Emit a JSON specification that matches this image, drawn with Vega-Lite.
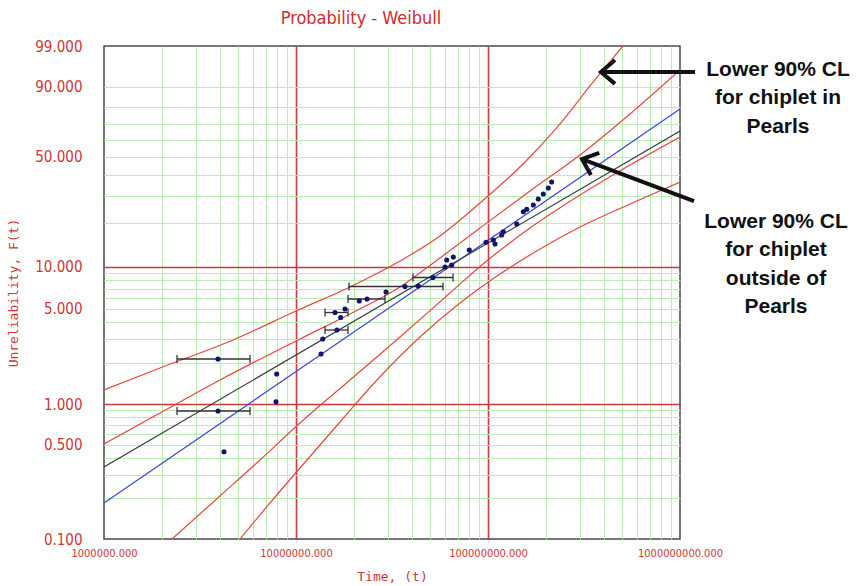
{
  "$schema": "https://vega.github.io/schema/vega-lite/v6.json",
  "width": 576,
  "height": 493,
  "autosize": {"type": "none"},
  "padding": {"left": 104, "top": 46, "right": 176, "bottom": 47},
  "background": "white",
  "title": {
    "text": "Probability - Weibull",
    "color": "#d42a2a",
    "font": "'Liberation Sans Narrow', 'DejaVu Sans Condensed', 'Liberation Sans', sans-serif",
    "fontSize": 18,
    "fontWeight": "normal",
    "anchor": "middle",
    "frame": "group",
    "dx": -31,
    "offset": 11
  },
  "config": {"view": {"stroke": "#4a4a4a", "strokeWidth": 1.5}},
  "resolve": {"axis": {"x": "independent", "y": "independent"}},
  "datasets": {
    "fits": [
      {"fit": "chiplet outside of Pearls", "t": 1e6, "F": 0.1854},
      {"fit": "chiplet outside of Pearls", "t": 1e9, "F": 79.1},
      {"fit": "chiplet in Pearls", "t": 1e6, "F": 0.3423},
      {"fit": "chiplet in Pearls", "t": 1e9, "F": 65.9}
    ],
    "bounds": [
      {"bound": "in Pearls, lower CL", "t": 1e6, "F": 1.272},
      {"bound": "in Pearls, lower CL", "t": 1.957e6, "F": 1.848},
      {"bound": "in Pearls, lower CL", "t": 4.697e6, "F": 2.967},
      {"bound": "in Pearls, lower CL", "t": 1e7, "F": 4.825},
      {"bound": "in Pearls, lower CL", "t": 1.911e7, "F": 7.186},
      {"bound": "in Pearls, lower CL", "t": 3.481e7, "F": 10.98},
      {"bound": "in Pearls, lower CL", "t": 5.623e7, "F": 16.34},
      {"bound": "in Pearls, lower CL", "t": 9.085e7, "F": 26.94},
      {"bound": "in Pearls, lower CL", "t": 1.597e8, "F": 48.07},
      {"bound": "in Pearls, lower CL", "t": 2.371e8, "F": 70.27},
      {"bound": "in Pearls, lower CL", "t": 3.398e8, "F": 90.21},
      {"bound": "in Pearls, lower CL", "t": 5.048e8, "F": 99.0},
      {"bound": "outside of Pearls, lower CL", "t": 1e6, "F": 0.507},
      {"bound": "outside of Pearls, lower CL", "t": 1.957e6, "F": 0.86},
      {"bound": "outside of Pearls, lower CL", "t": 4.019e6, "F": 1.508},
      {"bound": "outside of Pearls, lower CL", "t": 1.0243e7, "F": 2.967},
      {"bound": "outside of Pearls, lower CL", "t": 1.911e7, "F": 4.59},
      {"bound": "outside of Pearls, lower CL", "t": 3.481e7, "F": 7.186},
      {"bound": "outside of Pearls, lower CL", "t": 5.623e7, "F": 11.53},
      {"bound": "outside of Pearls, lower CL", "t": 9.085e7, "F": 18.5},
      {"bound": "outside of Pearls, lower CL", "t": 1.655e8, "F": 31.99},
      {"bound": "outside of Pearls, lower CL", "t": 3.014e8, "F": 51.0},
      {"bound": "outside of Pearls, lower CL", "t": 5.491e8, "F": 76.28},
      {"bound": "outside of Pearls, lower CL", "t": 1e9, "F": 95.29},
      {"bound": "outside of Pearls, upper CL", "t": 2.261e6, "F": 0.1},
      {"bound": "outside of Pearls, upper CL", "t": 4.019e6, "F": 0.2086},
      {"bound": "outside of Pearls, upper CL", "t": 6.494e6, "F": 0.3858},
      {"bound": "outside of Pearls, upper CL", "t": 1.0491e7, "F": 0.7253},
      {"bound": "outside of Pearls, upper CL", "t": 1.911e7, "F": 1.508},
      {"bound": "outside of Pearls, upper CL", "t": 3.481e7, "F": 3.12},
      {"bound": "outside of Pearls, upper CL", "t": 6.34e7, "F": 6.508},
      {"bound": "outside of Pearls, upper CL", "t": 9.418e7, "F": 10.46},
      {"bound": "outside of Pearls, upper CL", "t": 1.655e8, "F": 18.5},
      {"bound": "outside of Pearls, upper CL", "t": 3.014e8, "F": 30.22},
      {"bound": "outside of Pearls, upper CL", "t": 5.491e8, "F": 45.19},
      {"bound": "outside of Pearls, upper CL", "t": 1e9, "F": 62.13},
      {"bound": "in Pearls, upper CL", "t": 5.109e6, "F": 0.1},
      {"bound": "in Pearls, upper CL", "t": 7.32e6, "F": 0.1852},
      {"bound": "in Pearls, upper CL", "t": 1.0491e7, "F": 0.3365},
      {"bound": "in Pearls, upper CL", "t": 1.695e7, "F": 0.7378},
      {"bound": "in Pearls, upper CL", "t": 2.641e7, "F": 1.508},
      {"bound": "in Pearls, upper CL", "t": 4.423e7, "F": 3.12},
      {"bound": "in Pearls, upper CL", "t": 7.149e7, "F": 5.511},
      {"bound": "in Pearls, upper CL", "t": 1.155e8, "F": 8.893},
      {"bound": "in Pearls, upper CL", "t": 1.866e8, "F": 13.31},
      {"bound": "in Pearls, upper CL", "t": 3.014e8, "F": 18.79},
      {"bound": "in Pearls, upper CL", "t": 5.491e8, "F": 26.54},
      {"bound": "in Pearls, upper CL", "t": 1e9, "F": 36.22}
    ],
    "intervals": [
      {"t": 3.924e6, "tlo": 2.4e6, "thi": 5.76e6, "F": 2.152},
      {"t": 3.924e6, "tlo": 2.4e6, "thi": 5.76e6, "F": 0.8899},
      {"t": 1.635e7, "tlo": 1.416e7, "thi": 1.866e7, "F": 3.51},
      {"t": 1.597e7, "tlo": 1.416e7, "thi": 1.866e7, "F": 4.706},
      {"t": 2.343e7, "tlo": 1.866e7, "thi": 2.908e7, "F": 5.891},
      {"t": 3.696e7, "tlo": 1.888e7, "thi": 5.83e7, "F": 7.246},
      {"t": 5.17e7, "tlo": 4.068e7, "thi": 6.573e7, "F": 8.399}
    ],
    "failures": [
      {"t": 7.934e6, "F": 1.669},
      {"t": 7.868e6, "F": 1.042},
      {"t": 4.217e6, "F": 0.4445},
      {"t": 1.35e7, "F": 2.342},
      {"t": 1.378e7, "F": 3.017},
      {"t": 1.709e7, "F": 4.329},
      {"t": 1.8e7, "F": 4.989},
      {"t": 2.136e7, "F": 5.7},
      {"t": 2.943e7, "F": 6.616},
      {"t": 4.335e7, "F": 7.305},
      {"t": 5.971e7, "F": 9.967},
      {"t": 6.094e7, "F": 11.16},
      {"t": 6.471e7, "F": 10.3},
      {"t": 6.597e7, "F": 11.71},
      {"t": 7.991e7, "F": 13.1},
      {"t": 9.763e7, "F": 14.8},
      {"t": 1.066e8, "F": 15.35},
      {"t": 1.088e8, "F": 14.41},
      {"t": 1.178e8, "F": 16.6},
      {"t": 1.201e8, "F": 17.47},
      {"t": 1.411e8, "F": 19.67},
      {"t": 1.527e8, "F": 23.69},
      {"t": 1.591e8, "F": 24.55},
      {"t": 1.722e8, "F": 26.16},
      {"t": 1.828e8, "F": 28.54},
      {"t": 1.941e8, "F": 30.66},
      {"t": 2.061e8, "F": 33.34},
      {"t": 2.146e8, "F": 36.21}
    ],
    "arrows": [
      {"note": "in Pearls", "t": 1.197e9, "F": 94.78, "t2": 3.877e8, "F2": 94.78},
      {"note": "outside of Pearls", "t": 1.183e9, "F": 27.73, "t2": 3.087e8, "F2": 48.63}
    ],
    "notes": [
      {"note": "in Pearls", "t": 3.239e9, "F": 95.29, "label": "Lower 90% CL\nfor chiplet in\nPearls"},
      {"note": "outside of Pearls", "t": 3.162e9, "F": 20.29, "label": "Lower 90% CL\nfor chiplet\noutside of\nPearls"}
    ]
  },
  "layer": [
    {
      "data": {"name": "bounds"},
      "transform": [{"calculate": "log(-log(1 - datum.F / 100))", "as": "w"}],
      "mark": {"type": "line", "clip": true, "strokeWidth": 1.2, "color": "#e8453f", "interpolate": "monotone"},
      "encoding": {
        "x": {
          "field": "t", "type": "quantitative",
          "scale": {"type": "log", "domain": [1e6, 1e9], "nice": false},
          "axis": {
            "orient": "bottom",
            "values": [2e6, 3e6, 4e6, 5e6, 6e6, 7e6, 8e6, 9e6, 2e7, 3e7, 4e7, 5e7, 6e7, 7e7, 8e7, 9e7, 2e8, 3e8, 4e8, 5e8, 6e8, 7e8, 8e8, 9e8],
            "grid": true, "gridColor": "#b6efb0", "gridWidth": 1,
            "labels": false, "ticks": false, "domain": false, "title": null
          }
        },
        "y": {
          "field": "w", "type": "quantitative",
          "scale": {"domain": [-6.9073, 1.5272], "nice": false, "zero": false},
          "axis": {
            "orient": "left",
            "values": [-6.2136, -5.8077, -5.5195, -5.2958, -5.113, -4.9584, -4.8244, -4.7061, -3.902, -3.4913, -3.1985, -2.9702, -2.7826, -2.6231, -2.4843, -2.3611, -1.5, -1.0309, -0.6717, -0.3665, -0.0874, 0.1856, 0.4759, 0.834],
            "grid": true, "gridColor": "#b6efb0", "gridWidth": 1,
            "labels": false, "ticks": false, "domain": false, "title": null
          }
        },
        "detail": {"field": "bound", "type": "nominal"}
      }
    },
    {
      "data": {"name": "fits"},
      "transform": [{"calculate": "log(-log(1 - datum.F / 100))", "as": "w"}],
      "mark": {"type": "line", "clip": true, "strokeWidth": 1.2},
      "encoding": {
        "x": {
          "field": "t", "type": "quantitative",
          "scale": {"type": "log", "domain": [1e6, 1e9], "nice": false},
          "axis": {
            "orient": "bottom",
            "values": [1e6, 1e7, 1e8, 1e9],
            "labelExpr": "format(datum.value, '.3f')",
            "labelColor": "#d03535",
            "labelFont": "'Liberation Sans Narrow', 'DejaVu Sans Condensed', 'Liberation Sans', sans-serif",
            "labelFontSize": 11,
            "labelPadding": 8,
            "labelFlush": false,
            "labelOverlap": false,
            "grid": true,
            "gridColor": {"condition": {"test": "datum.value > 2e6 && datum.value < 5e8", "value": "#c93b3b"}, "value": "rgba(0,0,0,0)"},
            "gridWidth": 1.6,
            "ticks": false,
            "domain": false,
            "title": "Time, (t)",
            "titleColor": "#d03535",
            "titleFont": "DejaVu Sans Mono",
            "titleFontSize": 13,
            "titleFontWeight": "normal",
            "titlePadding": 12
          }
        },
        "y": {
          "field": "w", "type": "quantitative",
          "scale": {"domain": [-6.9073, 1.5272], "nice": false, "zero": false},
          "axis": {
            "orient": "left",
            "values": [-6.9073, -5.2958, -4.6001, -2.9702, -2.2504, -0.3665, 0.834, 1.5272],
            "labelExpr": "format(round(10000 * (1 - exp(-exp(datum.value)))) / 100, '.3f')",
            "labelColor": "#d03535",
            "labelFont": "'Liberation Sans Narrow', 'DejaVu Sans Condensed', 'Liberation Sans', sans-serif",
            "labelFontSize": 15,
            "labelPadding": 22,
            "labelFlush": false,
            "labelOverlap": false,
            "grid": true,
            "gridColor": {"condition": {"test": "abs(datum.value + 4.6001) < 0.01 || abs(datum.value + 2.2504) < 0.01", "value": "#c93b3b"}, "value": "rgba(0,0,0,0)"},
            "gridWidth": 1.6,
            "ticks": false,
            "domain": false,
            "title": "Unreliability, F(t)",
            "titleColor": "#d03535",
            "titleFont": "DejaVu Sans Mono",
            "titleFontSize": 13,
            "titleFontWeight": "normal",
            "titlePadding": 14
          }
        },
        "color": {
          "field": "fit", "type": "nominal",
          "scale": {"domain": ["chiplet outside of Pearls", "chiplet in Pearls"], "range": ["#3a45de", "#33403a"]},
          "legend": null
        }
      }
    },
    {
      "data": {"name": "intervals"},
      "transform": [{"calculate": "log(-log(1 - datum.F / 100))", "as": "w"}],
      "mark": {"type": "rule", "color": "#333333", "strokeWidth": 1.3},
      "encoding": {
        "x": {"field": "tlo", "type": "quantitative", "axis": null},
        "x2": {"field": "thi"},
        "y": {"field": "w", "type": "quantitative", "axis": null}
      }
    },
    {
      "data": {"name": "intervals"},
      "transform": [{"calculate": "log(-log(1 - datum.F / 100))", "as": "w"}],
      "mark": {"type": "point", "shape": "M0,-1L0,1", "size": 64, "filled": false, "color": "#333333", "strokeWidth": 1.3, "opacity": 1},
      "encoding": {
        "x": {"field": "tlo", "type": "quantitative", "axis": null},
        "y": {"field": "w", "type": "quantitative", "axis": null}
      }
    },
    {
      "data": {"name": "intervals"},
      "transform": [{"calculate": "log(-log(1 - datum.F / 100))", "as": "w"}],
      "mark": {"type": "point", "shape": "M0,-1L0,1", "size": 64, "filled": false, "color": "#333333", "strokeWidth": 1.3, "opacity": 1},
      "encoding": {
        "x": {"field": "thi", "type": "quantitative", "axis": null},
        "y": {"field": "w", "type": "quantitative", "axis": null}
      }
    },
    {
      "data": {"name": "intervals"},
      "transform": [{"calculate": "log(-log(1 - datum.F / 100))", "as": "w"}],
      "mark": {"type": "point", "shape": "circle", "size": 26, "filled": true, "color": "#12146b", "opacity": 1},
      "encoding": {
        "x": {"field": "t", "type": "quantitative", "axis": null},
        "y": {"field": "w", "type": "quantitative", "axis": null}
      }
    },
    {
      "data": {"name": "failures"},
      "transform": [{"calculate": "log(-log(1 - datum.F / 100))", "as": "w"}],
      "mark": {"type": "point", "shape": "circle", "size": 26, "filled": true, "color": "#12146b", "opacity": 1},
      "encoding": {
        "x": {"field": "t", "type": "quantitative", "axis": null},
        "y": {"field": "w", "type": "quantitative", "axis": null}
      }
    },
    {
      "data": {"name": "arrows"},
      "transform": [
        {"calculate": "log(-log(1 - datum.F / 100))", "as": "w"},
        {"calculate": "log(-log(1 - datum.F2 / 100))", "as": "w2"}
      ],
      "mark": {"type": "rule", "color": "#111111", "strokeWidth": 4},
      "encoding": {
        "x": {"field": "t", "type": "quantitative", "axis": null},
        "x2": {"field": "t2"},
        "y": {"field": "w", "type": "quantitative", "axis": null},
        "y2": {"field": "w2"}
      }
    },
    {
      "data": {"name": "arrows"},
      "transform": [
        {"filter": "datum.note == 'in Pearls'"},
        {"calculate": "log(-log(1 - datum.F2 / 100))", "as": "w2"}
      ],
      "mark": {"type": "point", "shape": "M1,-0.85L0,0L1,0.85", "size": 784, "angle": 0, "filled": false, "color": "#111111", "strokeWidth": 4, "opacity": 1},
      "encoding": {
        "x": {"field": "t2", "type": "quantitative", "axis": null},
        "y": {"field": "w2", "type": "quantitative", "axis": null}
      }
    },
    {
      "data": {"name": "arrows"},
      "transform": [
        {"filter": "datum.note == 'outside of Pearls'"},
        {"calculate": "log(-log(1 - datum.F2 / 100))", "as": "w2"}
      ],
      "mark": {"type": "point", "shape": "M1,-0.85L0,0L1,0.85", "size": 784, "angle": 20.6, "filled": false, "color": "#111111", "strokeWidth": 4, "opacity": 1},
      "encoding": {
        "x": {"field": "t2", "type": "quantitative", "axis": null},
        "y": {"field": "w2", "type": "quantitative", "axis": null}
      }
    },
    {
      "data": {"name": "notes"},
      "transform": [{"calculate": "log(-log(1 - datum.F / 100))", "as": "w"}],
      "mark": {
        "type": "text", "lineBreak": "\n", "align": "center", "baseline": "middle",
        "font": "'Liberation Sans', Arial, sans-serif", "fontSize": 21, "fontWeight": "bold",
        "lineHeight": 28.5, "color": "#111111"
      },
      "encoding": {
        "x": {"field": "t", "type": "quantitative", "axis": null},
        "y": {"field": "w", "type": "quantitative", "axis": null},
        "text": {"field": "label"}
      }
    }
  ]
}
